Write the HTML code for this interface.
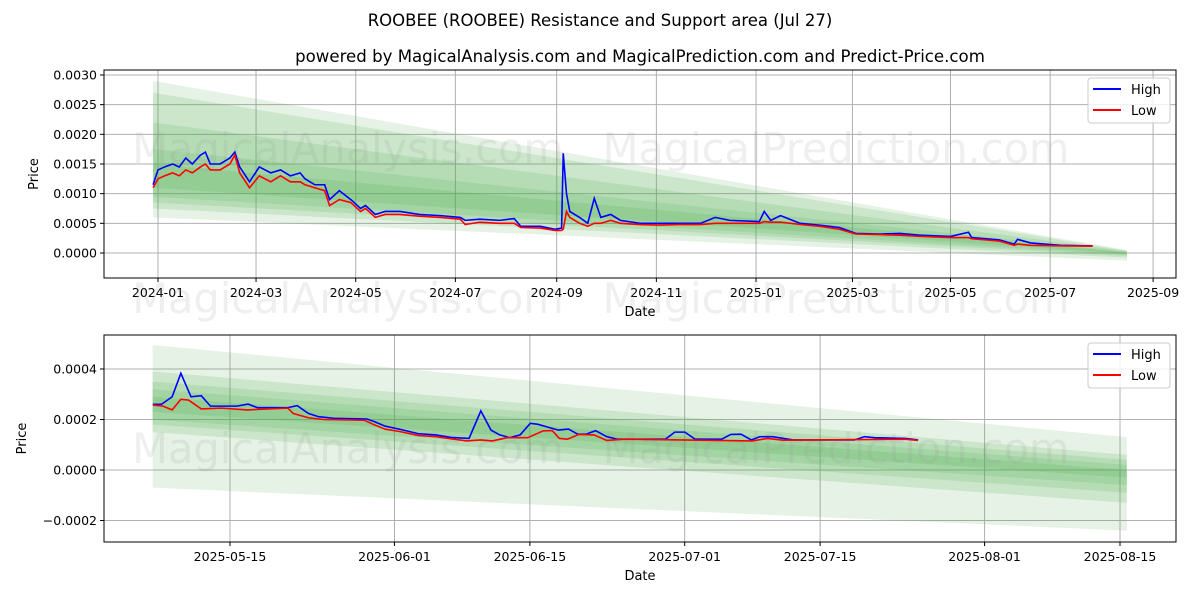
<!DOCTYPE html>
<html><head><meta charset="utf-8"><style>
body{margin:0;background:#fff;}
svg{display:block;font-family:"DejaVu Sans","Liberation Sans",sans-serif;}
</style></head><body>
<svg id="chart" width="1200" height="600" viewBox="0 0 1200 600">
<text x="600" y="26" text-anchor="middle" font-size="16.5" fill="#000">ROOBEE (ROOBEE) Resistance and Support area (Jul 27)</text>
<text x="640" y="62" text-anchor="middle" font-size="16.6" fill="#000">powered by MagicalAnalysis.com and MagicalPrediction.com and Predict-Price.com</text>
<g id="top"></g>
<g id="bot"></g>
</svg>
<script>
// ---- top panel data (days since 2024-01-01, values x1e-4) ----
const topDays=[-3,0,4,9,13,17,21,26,29,32,38,44,47,50,56,62,69,75,81,87,90,96,102,105,111,118,124,127,133,139,148,160,173,185,188,197,209,218,222,234,243,247,248,250,252,258,263,267,271,277,283,295,307,319,332,341,350,368,371,375,381,393,405,417,427,442,454,466,485,496,498,515,524,526,534,552,572];
const topHigh=[11.5,14,14.5,15,14.5,16,15,16.5,17,15,15,16,17,14.5,12,14.5,13.5,14,13,13.5,12.5,11.5,11.5,9,10.5,9,7.5,8,6.5,7,7,6.5,6.3,6,5.5,5.7,5.5,5.8,4.5,4.5,4,4.2,16.8,10,7,6,5,9.2,6,6.5,5.5,5,5,5,5,6,5.5,5.3,7,5.5,6.3,5,4.7,4.3,3.3,3.2,3.3,3,2.8,3.5,2.6,2.2,1.5,2.3,1.7,1.3,1.2];
const topLow=[11,12.5,13,13.5,13,14,13.5,14.5,15,14,14,15,16.5,13.5,11,13,12,13,12,12,11.5,11,10.5,8,9,8.5,7,7.5,6,6.5,6.5,6.2,6,5.7,4.8,5.2,5,5,4.3,4.2,3.8,3.8,4,7,6,5,4.5,5,5,5.5,5,4.8,4.7,4.8,4.8,5,5,5,5.3,5.2,5.2,4.8,4.5,4,3.2,3.1,3,2.8,2.6,2.6,2.4,2,1.3,1.5,1.3,1.2,1.15];
const topBandDays=[-3,593];
const topBandStartTop=[29,27,22,17.5,15];
const topBandStartBot=[6,7.5,8.5,9.5,11];
const topBandEndTop=[0.5,0.4,0.3,0.2,0.1];
const topBandEndBot=[-1.3,-0.8,-0.5,-0.3,-0.1];
const topYTicks=[0,5,10,15,20,25,30];
const topYLabels=["0.0000","0.0005","0.0010","0.0015","0.0020","0.0025","0.0030"];
const topXTickDays=[0,60,121,182,244,305,366,425,485,546,609];
const topXLabels=["2024-01","2024-03","2024-05","2024-07","2024-09","2024-11","2025-01","2025-03","2025-05","2025-07","2025-09"];
// ---- bottom panel data (days since 2025-05-15, values x1e-4) ----
const botDays=[-7.98,-7.09,-5.98,-5.08,-4.03,-2.97,-2.02,0.72,1.88,2.83,6.0,6.94,8.10,9.16,10.74,14.17,14.96,16.01,17.59,19.44,21.29,22.87,24.71,25.93,26.98,27.88,28.93,29.99,31.04,31.83,33.94,34.99,35.95,36.84,37.79,38.95,40.01,45.02,45.97,47.02,48.08,50.82,51.77,52.83,53.88,54.78,56.09,58.2,64.53,65.59,66.65,69.81,71.13];
const botHigh=[2.6,2.6,2.9,3.83,2.9,2.94,2.53,2.53,2.61,2.47,2.47,2.55,2.24,2.11,2.05,2.02,1.91,1.74,1.61,1.44,1.39,1.29,1.25,2.34,1.58,1.39,1.28,1.39,1.85,1.81,1.58,1.62,1.42,1.42,1.56,1.32,1.22,1.22,1.5,1.5,1.22,1.22,1.41,1.42,1.19,1.32,1.32,1.19,1.19,1.32,1.28,1.25,1.19];
const botLowDays=[-7.98,-6.93,-5.98,-5.08,-4.29,-2.97,-0.86,1.77,6.0,6.52,8.10,9.68,13.90,14.96,16.01,17.59,19.44,21.29,24.45,25.93,27.09,28.67,30.78,32.36,33.31,34.05,34.89,36.05,37.63,38.95,40.80,53.99,55.57,57.15,69.81,71.13];
const botLow=[2.57,2.53,2.38,2.8,2.77,2.42,2.45,2.38,2.45,2.24,2.07,2,1.97,1.78,1.62,1.52,1.37,1.32,1.15,1.19,1.15,1.28,1.28,1.55,1.56,1.25,1.22,1.41,1.39,1.17,1.22,1.15,1.25,1.18,1.22,1.17];
const botBandDays=[-8,92.7];
const botBandStartTop=[4.95,3.9,3.5,3.2,2.9];
const botBandStartBot=[-0.7,1.5,1.8,2.0,2.3];
const botBandEndTop=[1.3,0.6,0.4,0.2,0.0];
const botBandEndBot=[-2.4,-1.3,-0.9,-0.6,-0.3];
const botYTicks=[-2,0,2,4];
const botYLabels=["\u22120.0002","0.0000","0.0002","0.0004"];
const botXTickDays=[0,17,31,47,61,78,92];
const botXLabels=["2025-05-15","2025-06-01","2025-06-15","2025-07-01","2025-07-15","2025-08-01","2025-08-15"];

const NS="http://www.w3.org/2000/svg";
function mk(parent,tag,attrs){const e=document.createElementNS(NS,tag);for(const k in attrs)e.setAttribute(k,attrs[k]);parent.appendChild(e);return e;}

function panel(g,box,xs,ys,cfg){
  const {x0,x1,y0,y1}=box;
  cfg.yTicks.forEach((t,i)=>{
    const y=ys(t);
    const gl=mk(g,'line',{x1:x0,x2:x1,y1:y,y2:y,stroke:'#b0b0b0','stroke-width':1});
    
    
    mk(g,'line',{x1:x0-4,x2:x0,y1:y,y2:y,stroke:'#000'});
    const tx=mk(g,'text',{x:x0-7,y:y+4.5,'text-anchor':'end','font-size':12.5});
    tx.textContent=cfg.yLabels[i];
    
    
  });
  cfg.xTicks.forEach((t,i)=>{
    const x=xs(t);
    const gl=mk(g,'line',{x1:x,x2:x,y1:y0,y2:y1,stroke:'#b0b0b0','stroke-width':1});
    
    
    mk(g,'line',{x1:x,x2:x,y1:y1,y2:y1+4,stroke:'#000'});
    const tx=mk(g,'text',{x:x,y:y1+19,'text-anchor':'middle','font-size':12.5});
    tx.textContent=cfg.xLabels[i];
    
    
  });
  const cols=['rgba(80,170,80,0.15)','rgba(80,170,80,0.17)','rgba(80,170,80,0.17)','rgba(80,170,80,0.17)','rgba(80,170,80,0.17)'];
  for(let i=0;i<cfg.bst.length;i++){
    const a=cfg.bd[0],b=cfg.bd[1];
    const pts=[[xs(a),ys(cfg.bst[i])],[xs(b),ys(cfg.bet[i])],[xs(b),ys(cfg.beb[i])],[xs(a),ys(cfg.bsb[i])]];
    const p=mk(g,'polygon',{points:pts.map(p=>p.join(',')).join(' '),fill:cols[i]});
    
    
  }
  cfg.wm.forEach(w=>{
    const t=mk(g,'text',{x:w[0],y:w[1],'text-anchor':'middle','font-size':41.5,fill:'rgba(150,150,150,0.15)'});
    t.textContent=w[2];
    
    
  });
  const hp=mk(g,'polyline',{points:cfg.hd.map((d,i)=>xs(d)+','+ys(cfg.hv[i])).join(' '),fill:'none',stroke:'#0000ff','stroke-width':1.6});
  
  
  const lp=mk(g,'polyline',{points:cfg.ld.map((d,i)=>xs(d)+','+ys(cfg.lv[i])).join(' '),fill:'none',stroke:'#ff0000','stroke-width':1.6});
  
  
  const fr=mk(g,'rect',{x:x0,y:y0,width:x1-x0,height:y1-y0,fill:'none',stroke:'#000','stroke-width':1});
  
  
  const xt=mk(g,'text',{x:(x0+x1)/2,y:y1+38,'text-anchor':'middle','font-size':13});
  xt.textContent='Date';
  
  
  const yt=mk(g,'text',{x:cfg.ytx,y:(y0+y1)/2,'text-anchor':'middle','font-size':13,transform:`rotate(-90 ${cfg.ytx} ${(y0+y1)/2})`});
  yt.textContent='Price';
  
  
  const lg=mk(g,'g',{});
  
  
  const ly=y0+8;
  mk(lg,'rect',{x:1088,y:ly,width:82,height:45,rx:3,fill:'rgba(255,255,255,0.8)',stroke:'#ccc'});
  [['High','#0000ff'],['Low','#ff0000']].forEach((e,i)=>{
    const eg=mk(lg,'g',{});
    
    
    mk(eg,'line',{x1:1093,x2:1121,y1:ly+11+i*21,y2:ly+11+i*21,stroke:e[1],'stroke-width':2});
    const t=mk(eg,'text',{x:1131,y:ly+16+i*21,'font-size':13});t.textContent=e[0];
  });
}

const tb={x0:104,x1:1176,y0:70,y1:278};
panel(document.getElementById('top'),tb,d=>158+d*1.634,v=>253-v*5.934,{
  yTicks:topYTicks,yLabels:topYLabels,xTicks:topXTickDays,xLabels:topXLabels,
  bd:topBandDays,bst:topBandStartTop,bsb:topBandStartBot,bet:topBandEndTop,beb:topBandEndBot,
  hd:topDays,hv:topHigh,ld:topDays,lv:topLow,ytx:38,
  wm:[[348,163,'MagicalAnalysis.com'],[836,163,'MagicalPrediction.com'],[348,313,'MagicalAnalysis.com'],[836,313,'MagicalPrediction.com']]
});
const bb={x0:104,x1:1176,y0:335,y1:542};
panel(document.getElementById('bot'),bb,d=>230+d*9.674,v=>470-v*25.25,{
  yTicks:botYTicks,yLabels:botYLabels,xTicks:botXTickDays,xLabels:botXLabels,
  bd:botBandDays,bst:botBandStartTop,bsb:botBandStartBot,bet:botBandEndTop,beb:botBandEndBot,
  hd:botDays,hv:botHigh,ld:botLowDays,lv:botLow,ytx:26,
  wm:[[348,463,'MagicalAnalysis.com'],[836,463,'MagicalPrediction.com']]
});
</script>
</body></html>
